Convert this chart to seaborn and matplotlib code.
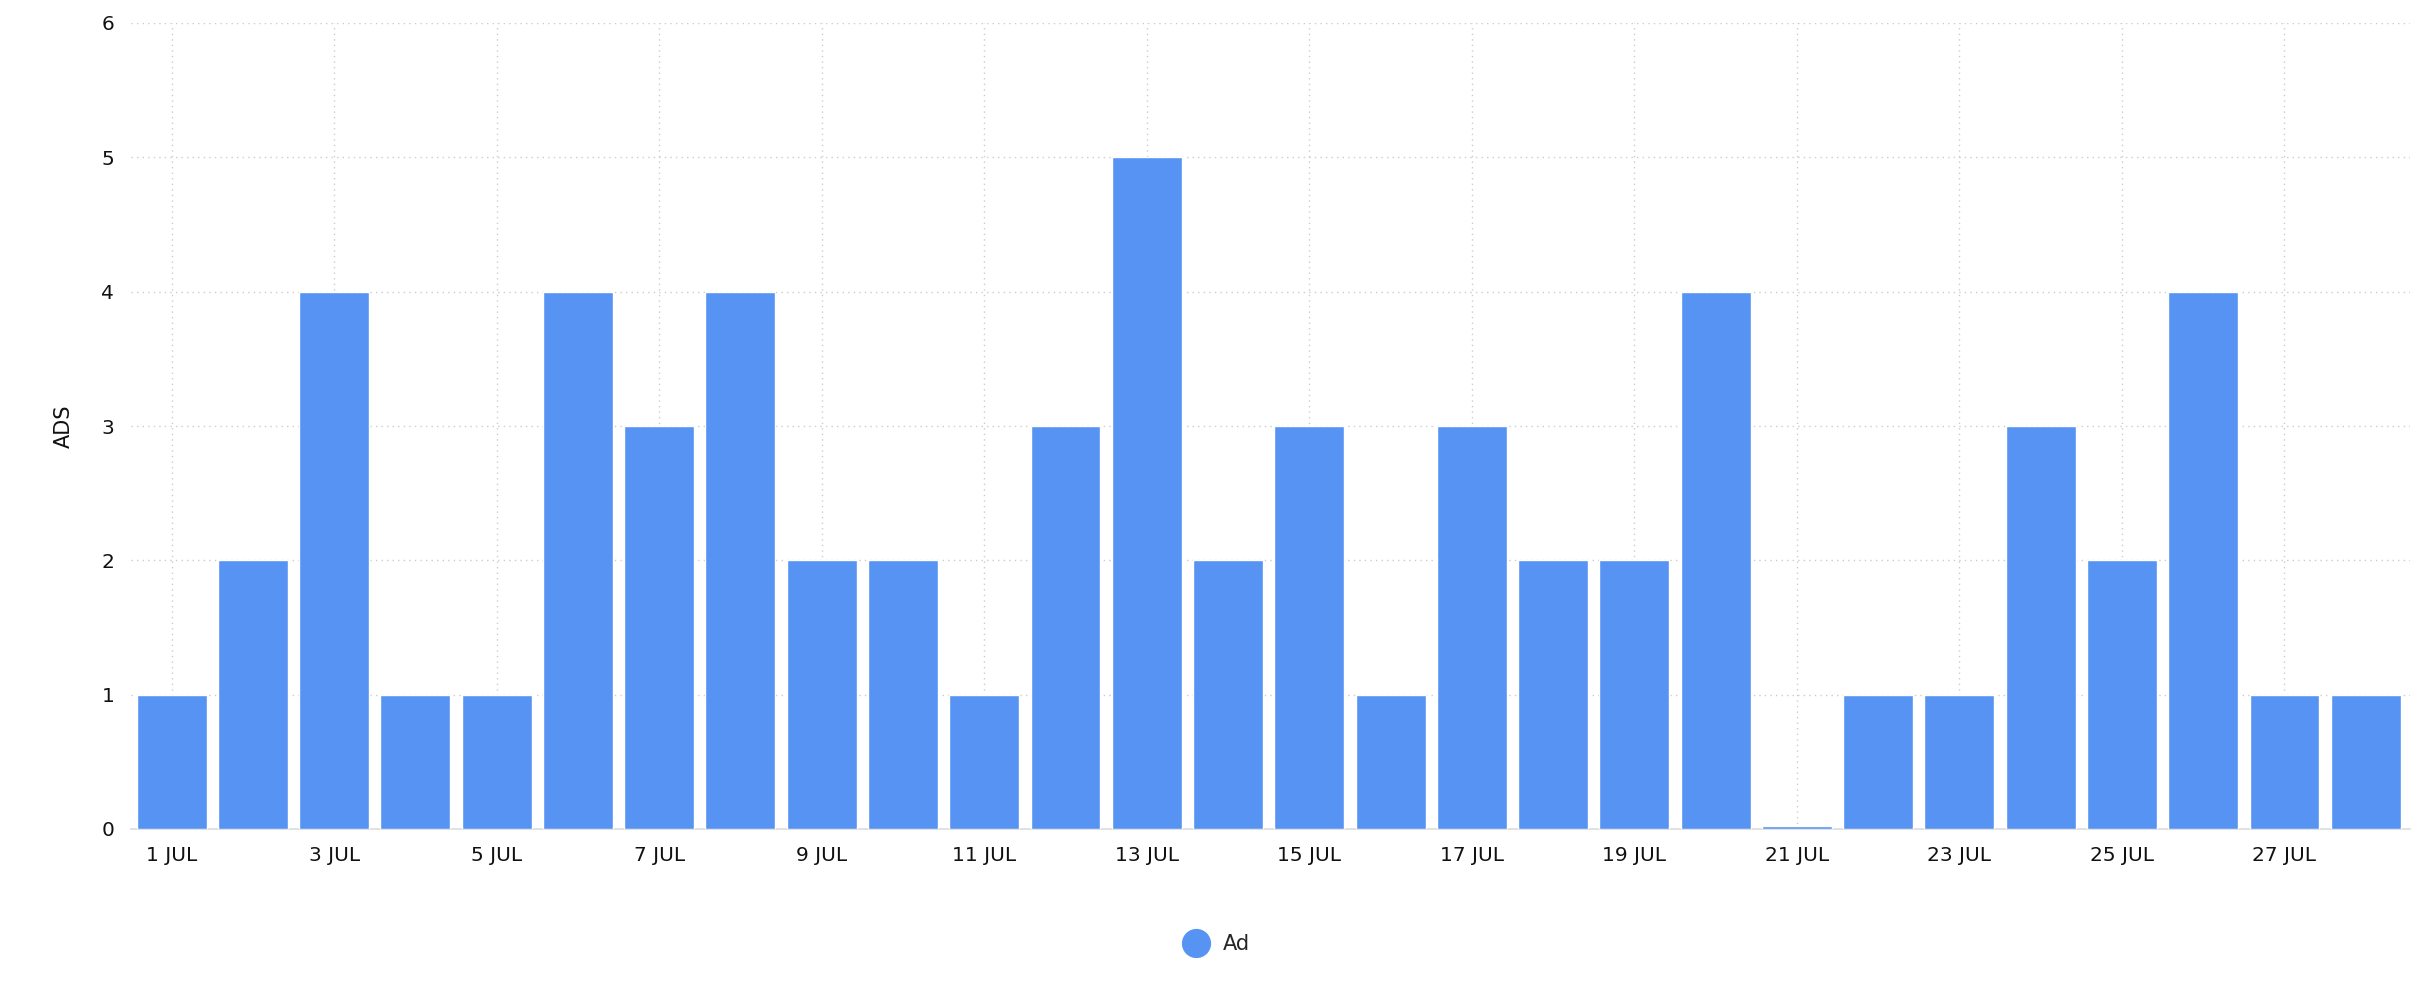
import matplotlib
matplotlib.use("Agg")
import matplotlib.pyplot as plt
import seaborn as sns
import pandas as pd
from matplotlib.lines import Line2D

days = [f"{d} JUL" for d in range(1, 29)]
ads = [1, 2, 4, 1, 1, 4, 3, 4, 2, 2, 1, 3, 5, 2, 3, 1, 3, 2, 2, 4, 0.02, 1, 1, 3, 2, 4, 1, 1]
series_name = "Ad"
color = "#5793f3"

sns.set_theme(style="white")
plt.rcParams['font.family'] = ['DejaVu Sans']
df = pd.DataFrame({"day": days, "ads": ads})

fig = plt.figure(figsize=(24.25, 10), dpi=100)
ax = fig.add_axes([0.054, 0.171, 0.940, 0.806])
sns.barplot(data=df, x="day", y="ads", color=color, saturation=1, width=0.86, ax=ax, zorder=3)
ax.set_xlim(-0.5, 27.55)
ax.set_ylim(0, 6)
ax.set_xticks(range(0, 28, 2))
ax.set_xticklabels(days[::2], fontsize=14.5, color="#111")
ax.set_yticks(range(0, 7))
ax.set_yticklabels([str(i) for i in range(7)], fontsize=14.5, color="#111")
ax.set_xlabel("")
ax.set_ylabel("ADS", fontsize=15, labelpad=20, color="#111")
ax.grid(True, linestyle=(0, (1, 3)), color="#cccccc", linewidth=1, zorder=0)
for s in ["top", "right", "left"]:
    ax.spines[s].set_visible(False)
ax.spines["bottom"].set_color("#dddddd")
ax.tick_params(axis="both", length=0, pad=12)
h = Line2D([], [], marker="o", linestyle="", markersize=20, color=color)
fig.legend([h], [series_name], loc="center", bbox_to_anchor=(0.5, 0.056), frameon=False, fontsize=15, handletextpad=0.3)
fig.savefig("out.png", dpi=100)
